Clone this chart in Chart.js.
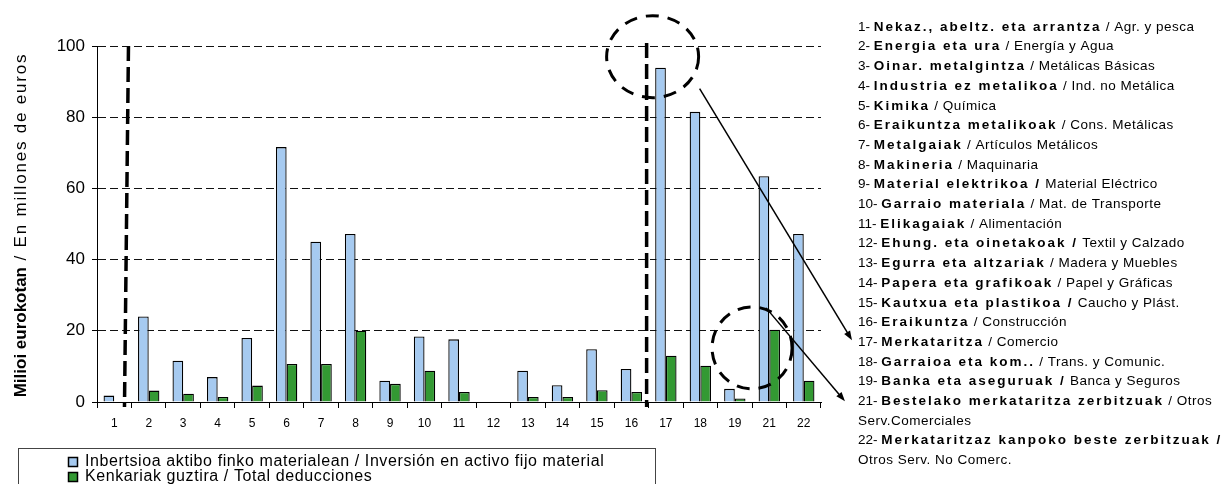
<!DOCTYPE html>
<html>
<head>
<meta charset="utf-8">
<script src="https://cdn.jsdelivr.net/npm/chart.js@4.4.1/dist/chart.umd.min.js"></script>
<style>
  body { margin: 0; background: #fff; }
  canvas { display: block; }
</style>
</head>
<body>
<canvas id="grafico" width="1225" height="484"></canvas>
<script>
// --- Datos ---
const categorias = ['1','2','3','4','5','6','7','8','9','10','11','12','13','14','15','16','17','18','19','21','22'];
const inversion = [1.8, 24, 11.6, 7, 18, 71.6, 45, 47.2, 6, 18.4, 17.6, 0, 8.8, 4.7, 14.8, 9.3, 93.9, 81.5, 3.7, 63.4, 47.2];
const deducciones = [0, 3.2, 2.3, 1.4, 4.6, 10.7, 10.7, 20, 5.1, 8.8, 2.8, 0, 1.4, 1.4, 3.3, 2.8, 13, 10.2, 1, 20.3, 6];
const etiquetasSerie = [
  'Inbertsioa aktibo finko materialean / Inversión en activo fijo material',
  'Kenkariak guztira / Total deducciones'
];
const tituloEjeNegrita = 'Milioi eurokotan';
const tituloEjeNormal = ' / En millones de euros';

// Lista de sectores (número, nombre en euskera en negrita, nombre en castellano)
const sectorNum = ['1-','2-','3-','4-','5-','6-','7-','8-','9-','10-','11-','12-','13-','14-','15-','16-','17-','18-','19-','21-','22-'];
const sectorEu = ['Nekaz., abeltz. eta arrantza','Energia eta ura','Oinar. metalgintza','Industria ez metalikoa','Kimika',
  'Eraikuntza metalikoak','Metalgaiak','Makineria','Material elektrikoa /','Garraio materiala','Elikagaiak',
  'Ehung. eta oinetakoak /','Egurra eta altzariak','Papera eta grafikoak','Kautxua eta plastikoa /','Eraikuntza',
  'Merkataritza','Garraioa eta kom..','Banka eta aseguruak /','Bestelako merkataritza zerbitzuak','Merkataritzaz kanpoko beste zerbitzuak /'];
const sectorEs = [' / Agr. y pesca',' / Energía y Agua',' / Metálicas Básicas',' / Ind. no Metálica',' / Química',
  ' / Cons. Metálicas',' / Artículos Metálicos',' / Maquinaria',' Material Eléctrico',' / Mat. de Transporte',' / Alimentación',
  ' Textil y Calzado',' / Madera y Muebles',' / Papel y Gráficas',' Caucho y Plást.',' / Construcción',
  ' / Comercio',' / Trans. y Comunic.',' Banca y Seguros',' / Otros\nServ.Comerciales','\nOtros Serv. No Comerc.'];

const FUENTE = '"Liberation Sans", Arial, sans-serif';

// --- Utilidades de dibujo ---
function lineaDiscontinua(ctx, x1, y1, x2, y2, dash, ancho) {
  ctx.save();
  ctx.strokeStyle = '#000';
  ctx.lineWidth = ancho;
  ctx.setLineDash(dash);
  ctx.beginPath();
  ctx.moveTo(x1, y1);
  ctx.lineTo(x2, y2);
  ctx.stroke();
  ctx.restore();
}

function elipse(ctx, cx, cy, rx, ry) {
  ctx.save();
  ctx.strokeStyle = '#000';
  ctx.lineWidth = 3;
  ctx.setLineDash([13, 9]);
  ctx.beginPath();
  ctx.ellipse(cx, cy, rx, ry, 0, 0, Math.PI * 2);
  ctx.stroke();
  ctx.restore();
}

function flecha(ctx, x1, y1, x2, y2) {
  ctx.save();
  ctx.strokeStyle = '#000';
  ctx.fillStyle = '#000';
  ctx.lineWidth = 1.5;
  const ang = Math.atan2(y2 - y1, x2 - x1);
  const largo = 10;
  ctx.beginPath();
  ctx.moveTo(x1, y1);
  ctx.lineTo(x2 - Math.cos(ang) * largo * 0.8, y2 - Math.sin(ang) * largo * 0.8);
  ctx.stroke();
  ctx.beginPath();
  ctx.moveTo(x2, y2);
  ctx.lineTo(x2 - largo * Math.cos(ang - 0.35), y2 - largo * Math.sin(ang - 0.35));
  ctx.lineTo(x2 - largo * Math.cos(ang + 0.35), y2 - largo * Math.sin(ang + 0.35));
  ctx.closePath();
  ctx.fill();
  ctx.restore();
}

// --- Plugin de anotaciones, leyenda y textos ---
const anotaciones = {
  id: 'anotaciones',
  afterDraw(chart) {
    const ctx = chart.ctx;
    const x = chart.scales.x;
    const y = chart.scales.y;
    const area = chart.chartArea;
    const paso = x.getPixelForValue(1) - x.getPixelForValue(0);
    const limite = i => x.getPixelForValue(i) - paso / 2;

    // líneas verticales discontinuas
    const xa = limite(1) - 5;
    lineaDiscontinua(ctx, xa + 2, area.top, xa - 2, area.bottom + 5, [15, 6], 3.5);
    const xb = limite(16) - 2;
    lineaDiscontinua(ctx, xb, area.top - 3, xb, area.bottom + 5, [15, 6], 3.5);

    // círculos discontinuos
    const c1x = limite(16) + 4, c1y = y.getPixelForValue(97);
    elipse(ctx, c1x, c1y, 46, 41);
    const c2x = limite(19), c2y = y.getPixelForValue(15.2);
    elipse(ctx, c2x, c2y, 40, 41);

    // líneas de texto de la lista
    const listaX = 858, listaY = 27, interlinea = 19.7;
    let linea = 0;
    const filaY = {};
    ctx.save();
    ctx.fillStyle = '#000';
    ctx.textBaseline = 'middle';
    sectorNum.forEach((num, i) => {
      filaY[i] = listaY + linea * interlinea;
      let cx = listaX;
      const yy = listaY + linea * interlinea;
      ctx.font = '13.5px ' + FUENTE;
      ctx.letterSpacing = '0px';
      ctx.fillText(num + ' ', cx, yy);
      cx += ctx.measureText(num + ' ').width;
      ctx.font = 'bold 13.5px ' + FUENTE;
      ctx.letterSpacing = '2px';
      ctx.fillText(sectorEu[i], cx, yy);
      cx += ctx.measureText(sectorEu[i]).width;
      ctx.font = '13.5px ' + FUENTE;
      ctx.letterSpacing = '0.5px';
      const partes = sectorEs[i].split('\n');
      ctx.fillText(partes[0], cx, yy);
      for (let k = 1; k < partes.length; k++) {
        linea++;
        ctx.fillText(partes[k], listaX, listaY + linea * interlinea);
      }
      linea++;
    });
    ctx.restore();

    // flechas
    flecha(ctx, c1x + 47, c1y + 32, listaX - 6, filaY[16] - 2);
    flecha(ctx, c2x + 14, c2y - 40, listaX - 13, filaY[19]);

    // título del eje vertical
    ctx.save();
    ctx.translate(21, (area.top + area.bottom) / 2 + 1);
    ctx.rotate(-Math.PI / 2);
    ctx.textBaseline = 'middle';
    ctx.fillStyle = '#000';
    ctx.font = 'bold 17px ' + FUENTE;
    ctx.letterSpacing = '0px';
    const w1 = ctx.measureText(tituloEjeNegrita).width;
    ctx.font = '17px ' + FUENTE;
    ctx.letterSpacing = '1.8px';
    const w2 = ctx.measureText(tituloEjeNormal).width;
    const inicio = -(w1 + w2) / 2;
    ctx.font = 'bold 17px ' + FUENTE;
    ctx.letterSpacing = '0px';
    ctx.fillText(tituloEjeNegrita, inicio, 0);
    ctx.font = '17px ' + FUENTE;
    ctx.letterSpacing = '1.8px';
    ctx.fillText(tituloEjeNormal, inicio + w1, 0);
    ctx.restore();

    // leyenda con marco
    ctx.save();
    ctx.strokeStyle = '#444';
    ctx.lineWidth = 1;
    ctx.strokeRect(18.5, 448.5, 637, 60);
    ctx.font = '16px ' + FUENTE;
    ctx.letterSpacing = '0.6px';
    ctx.textBaseline = 'middle';
    chart.data.datasets.forEach((ds, i) => {
      const ly = 462 + i * 15;
      ctx.fillStyle = ds.backgroundColor;
      ctx.fillRect(68, ly - 5, 10, 10);
      ctx.strokeStyle = '#000';
      ctx.lineWidth = 1.5;
      ctx.strokeRect(68.5, ly - 4.5, 9, 9);
      ctx.fillStyle = '#000';
      ctx.fillText(ds.label, 85, ly);
    });
    ctx.restore();
  }
};

// --- Gráfico ---
const grafico = new Chart(document.getElementById('grafico'), {
  type: 'bar',
  data: {
    labels: categorias,
    datasets: [{
      label: etiquetasSerie[0],
      data: inversion,
      backgroundColor: '#a6caf0',
      borderColor: '#000',
      borderWidth: 1.3,
      barPercentage: 1,
      categoryPercentage: 0.62
    }, {
      label: etiquetasSerie[1],
      data: deducciones,
      backgroundColor: '#339933',
      borderColor: '#000',
      borderWidth: 1.3,
      barPercentage: 1,
      categoryPercentage: 0.62
    }]
  },
  options: {
    responsive: false,
    devicePixelRatio: 1,
    animation: false,
    layout: { padding: { left: 0, right: 404, top: 46, bottom: 52 } },
    plugins: {
      legend: { display: false },
      tooltip: { enabled: false }
    },
    scales: {
      x: {
        afterFit: s => { s.height = 30; },
        grid: { drawOnChartArea: false, tickLength: 6, color: '#000', offset: true },
        border: { color: '#000', width: 1 },
        ticks: { color: '#000', font: { family: FUENTE, size: 12 }, padding: 8, autoSkip: false, maxRotation: 0 }
      },
      y: {
        min: 0,
        max: 100,
        afterFit: s => { s.width = 97; },
        grid: {
          color: c => c.tick && c.tick.value === 0 ? 'rgba(0,0,0,0)' : '#111',
          tickColor: '#000',
          tickLength: 5,
          tickBorderDash: []
        },
        border: { color: '#000', width: 1, dash: [8, 4] },
        ticks: { stepSize: 20, color: '#000', font: { family: FUENTE, size: 17 }, padding: 7 }
      }
    }
  },
  plugins: [anotaciones]
});
</script>
</body>
</html>
